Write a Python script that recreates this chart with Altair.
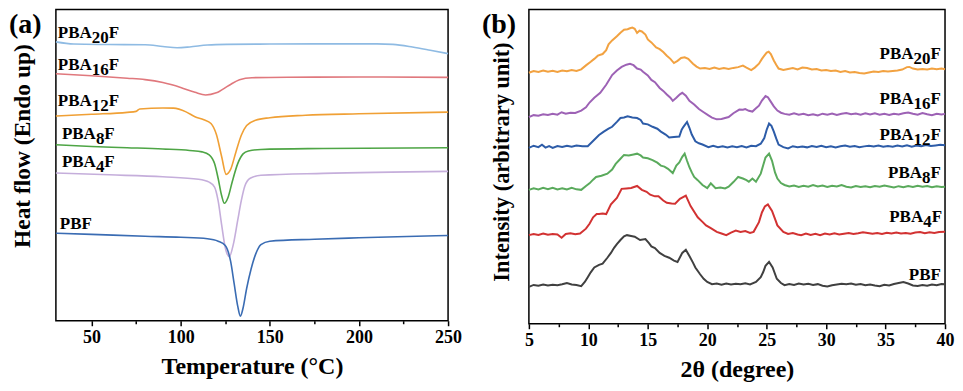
import altair as alt
import pandas as pd

FONT = "Liberation Serif"
names = ["PBA20F", "PBA16F", "PBA12F", "PBA8F", "PBA4F", "PBF"]

# ---------------- DSC (panel a) ----------------
dsc_T = {
    "PBA20F": [30, 40, 60, 80, 90, 98, 105, 115, 126, 150, 180, 210, 219, 230, 240, 250],
    "PBA16F": [30, 50, 70, 80, 90, 100, 108, 114, 120, 127, 133, 140, 160, 200, 250],
    "PBA12F": [30, 50, 70, 75, 77, 90, 96, 103, 108, 113, 117, 120, 123, 125.5, 128, 131, 134, 137, 142, 150, 170, 200, 250],
    "PBA8F": [30, 50, 70, 90, 105, 112, 116, 119, 121, 123, 124.5, 126.5, 129, 132, 135, 138, 145, 180, 250],
    "PBA4F": [30, 60, 90, 110, 116, 119, 121, 123, 125, 127.3, 129.5, 132, 134, 136, 139, 145, 180, 250],
    "PBF": [30, 50, 80, 100, 115, 121, 125, 128, 130, 132, 133.5, 135, 137, 139.5, 142, 145, 150, 175, 200, 250],
}
dsc_v = {
    "PBA20F": [285.7, 283.5, 283, 282.7, 281, 279.7, 280.5, 282.5, 283.2, 283.5, 283.7, 283.7, 283.2, 280.5, 277.2, 273.7],
    "PBA16F": [253, 251, 248.5, 247, 244, 239, 234, 231.3, 233.5, 241, 247, 249, 249.5, 249.7, 249.3],
    "PBA12F": [209.7, 211.5, 213.5, 214.5, 217, 218, 217.8, 214, 209, 206, 202, 191, 168, 150, 155, 173, 190, 200, 205.5, 208, 210.5, 212, 213.7],
    "PBA8F": [180.3, 178.5, 177.3, 176, 174.5, 173, 170, 161, 146, 128, 120.3, 126, 143, 161, 171, 174, 175.5, 176.5, 177.3],
    "PBA4F": [151.3, 149.5, 147.5, 145, 142, 137, 123, 98, 75, 65.7, 78, 103, 123, 138, 146, 149, 151, 153],
    "PBF": [89.7, 88.5, 86.5, 85.5, 84, 81.5, 77, 61, 38, 15, 4.7, 13, 33, 53, 68, 78, 81.5, 83.5, 85, 87.3],
}
dsc_colors = ["#8fbbe3", "#e0787d", "#f0a035", "#4ea545", "#c5aedb", "#3a6cb3"]

dsc_lbl_x = [31.1, 31.1, 31.1, 33.4, 33.4, 32.2]
dsc_lbl_y = [289.7, 257, 220.3, 186.3, 157.3, 93.7]

# ---------------- XRD (panel b) ----------------
xrd_x = {
    "PBA20F": [5.0, 5.4, 5.8, 6.2, 6.6, 7.0, 7.4, 7.8, 8.2, 8.6, 9.0, 9.4, 9.8, 10.2, 10.5, 10.8, 11.2, 11.5, 11.7, 12.0,
               12.4, 12.7, 13.0, 13.3, 13.5, 13.7, 13.9, 14.1, 14.3, 14.5, 14.8, 15.0, 15.3, 15.7, 16.0, 16.3, 16.6, 16.9, 17.2, 17.5,
               17.8, 18.1, 18.4, 18.8, 19.1, 19.4, 19.8, 20.2, 20.6, 21.0, 21.4, 21.8, 22.2, 22.6, 23.0, 23.3, 23.7, 24.0, 24.35, 24.6,
               24.8, 25.0, 25.17, 25.35, 25.6, 25.8, 26.0, 26.4, 26.8, 27.2, 27.6, 28.0, 28.4, 28.8, 29.2, 29.6, 30.0, 30.4, 30.8, 31.2,
               31.6, 32.0, 32.4, 32.8, 33.2, 33.6, 34.0, 34.4, 34.8, 35.2, 35.6, 36.0, 36.4, 36.8, 37.0, 37.3, 37.7, 38.1, 38.5, 38.9,
               39.3, 39.7, 40.0],
    "PBA16F": [5.0, 5.4, 5.8, 6.2, 6.6, 7.0, 7.4, 7.75, 8.1, 8.5, 8.9, 9.4, 9.8, 10.1, 10.5, 11.0, 11.5, 12.0, 12.4, 12.8,
               13.2, 13.5, 13.8, 14.1, 14.4, 14.6, 15.0, 15.3, 15.6, 16.0, 16.3, 16.6, 16.9, 17.1, 17.4, 17.7, 17.9, 18.2, 18.5, 18.9,
               19.3, 19.7, 20.1, 20.4, 20.8, 21.2, 21.5, 21.8, 22.2, 22.7, 23.0, 23.2, 23.5, 23.8, 24.1, 24.35, 24.6, 24.9, 25.1, 25.3,
               25.6, 25.9, 26.2, 26.5, 26.9, 27.3, 27.7, 28.1, 28.5, 28.9, 29.3, 29.7, 30.1, 30.5, 30.9, 31.3, 31.7, 32.1, 32.5, 32.9,
               33.3, 33.7, 34.1, 34.5, 34.9, 35.3, 35.7, 36.1, 36.5, 36.9, 37.3, 37.7, 38.1, 38.5, 38.9, 39.3, 39.7, 40.0],
    "PBA12F": [5.0, 5.4, 5.8, 6.1, 6.4, 6.7, 7.0, 7.4, 7.8, 8.2, 8.6, 9.0, 9.5, 9.95, 10.5, 10.9, 11.3, 11.7, 12.0, 12.4,
               12.7, 13.0, 13.3, 13.7, 14.1, 14.4, 14.6, 15.0, 15.4, 15.8, 16.1, 16.5, 16.8, 17.2, 17.65, 17.85, 18.0, 18.3, 18.5, 18.7,
               19.0, 19.3, 19.6, 20.1, 20.5, 20.9, 21.3, 21.7, 22.1, 22.5, 22.9, 23.3, 23.7, 24.1, 24.5, 24.8, 25.0, 25.2, 25.4, 25.6,
               25.8, 26.0, 26.4, 26.8, 27.2, 27.6, 28.0, 28.4, 28.8, 29.2, 29.6, 30.0, 30.4, 30.8, 31.2, 31.6, 32.0, 32.4, 32.8, 33.2,
               33.6, 34.0, 34.4, 34.8, 35.2, 35.6, 36.0, 36.4, 36.8, 37.2, 37.6, 38.0, 38.4, 38.8, 39.2, 39.6, 40.0],
    "PBA8F": [5.0, 5.4, 5.8, 6.2, 6.6, 7.0, 7.4, 7.8, 8.2, 8.6, 9.0, 9.4, 9.8, 10.1, 10.4, 10.65, 11.1, 11.6, 12.0, 12.3,
              12.7, 13.0, 13.4, 13.8, 14.1, 14.4, 14.6, 15.0, 15.4, 15.8, 16.1, 16.4, 16.7, 17.1, 17.4, 17.65, 17.9, 18.1, 18.3, 18.5,
              18.7, 18.9, 19.2, 19.6, 20.0, 20.3, 20.7, 21.1, 21.5, 21.8, 22.2, 22.6, 23.0, 23.3, 23.5, 23.8, 24.1, 24.5, 24.7, 24.9,
              25.2, 25.45, 25.7, 25.9, 26.2, 26.5, 26.9, 27.3, 27.7, 28.1, 28.5, 28.9, 29.3, 29.7, 30.1, 30.5, 30.9, 31.3, 31.7, 32.1,
              32.5, 32.9, 33.3, 33.7, 34.1, 34.5, 34.9, 35.3, 35.7, 36.1, 36.5, 36.9, 37.3, 37.7, 38.1, 38.5, 38.9, 39.3, 39.7, 40.0],
    "PBA4F": [5.0, 5.4, 5.8, 6.2, 6.6, 7.0, 7.4, 7.75, 8.1, 8.5, 8.9, 9.3, 9.8, 10.1, 10.4, 10.7, 10.9, 11.2, 11.5, 11.9,
              12.4, 12.8, 13.2, 13.6, 14.1, 14.5, 14.9, 15.2, 15.6, 15.9, 16.3, 16.6, 17.0, 17.3, 17.7, 18.2, 18.6, 19.2, 19.6, 19.9,
              20.3, 20.8, 21.2, 21.6, 22.0, 22.4, 22.8, 23.2, 23.6, 23.9, 24.35, 24.6, 24.85, 25.1, 25.45, 25.7, 25.9, 26.4, 26.8, 27.2,
              27.6, 27.9, 28.3, 28.7, 29.1, 29.5, 29.9, 30.3, 30.7, 31.1, 31.5, 31.9, 32.3, 32.7, 33.1, 33.5, 33.9, 34.3, 34.7, 35.1,
              35.5, 35.9, 36.3, 36.7, 37.1, 37.5, 37.9, 38.3, 38.7, 39.1, 39.5, 40.0],
    "PBF": [5.0, 5.4, 5.8, 6.2, 6.6, 7.0, 7.4, 7.8, 8.2, 8.6, 9.0, 9.4, 9.7, 9.95, 10.2, 10.5, 10.9, 11.2, 11.6, 11.9,
            12.15, 12.4, 12.7, 13.0, 13.25, 13.6, 13.9, 14.35, 14.8, 15.1, 15.3, 15.6, 16.0, 16.4, 16.8, 17.2, 17.5, 17.9, 18.2, 18.5,
            18.8, 19.0, 19.4, 19.7, 20.0, 20.4, 20.8, 21.2, 21.6, 22.0, 22.4, 22.8, 23.2, 23.6, 24.1, 24.5, 24.7, 24.9, 25.2, 25.5,
            25.85, 26.2, 26.5, 26.9, 27.3, 27.7, 28.1, 28.5, 28.9, 29.3, 29.7, 30.1, 30.5, 30.9, 31.3, 31.7, 32.1, 32.5, 32.9, 33.3,
            33.7, 34.1, 34.5, 34.9, 35.3, 35.7, 36.1, 36.5, 36.9, 37.3, 37.7, 38.1, 38.5, 38.9, 39.3, 39.7, 40.0],
}
xrd_y = {
    "PBA20F": [258.7, 260.5, 259.5, 261, 259.7, 260.8, 259.5, 261, 260.2, 261.5, 260.5, 262.2, 266.3, 270, 273, 276.3, 278, 282, 288, 292,
               296.3, 300, 303, 303.5, 304.5, 305.3, 304, 299.7, 302, 301.3, 298, 293, 290, 284.7, 283, 280, 276.3, 273, 268.7, 271,
               274, 274.7, 273, 268, 265, 263, 263.5, 262.5, 264, 262.5, 263.5, 262.7, 263.7, 264.5, 266, 264, 261.5, 264, 268, 273,
               276.3, 279.5, 280.3, 278, 271.3, 267, 263, 261.5, 262.5, 263.5, 262, 264, 263.5, 262, 262.5, 261, 261.5, 260.5, 261, 259.5,
               260.5, 259, 259.5, 258.5, 258, 259, 260, 259.5, 260.5, 260, 260.5, 261, 262, 264.5, 264.7, 263, 262, 262.5, 262, 263,
               262.3, 263, 262.3],
    "PBA16F": [213, 215, 214.5, 216, 215.2, 216.5, 215.5, 218, 216.5, 217.5, 217.2, 219.7, 223, 228, 233, 238, 246.3, 256.3, 261, 264.7,
               267, 268, 266.5, 263, 262, 259.7, 256, 251.3, 249, 243, 240, 236.3, 233, 229.7, 233, 236.5, 238, 235, 229.7, 226,
               221.3, 218, 214.7, 212.5, 210.7, 211, 212, 213, 217, 220.7, 220.5, 221.3, 219.5, 218.7, 222, 224.7, 230, 234.7, 233.5, 229.7,
               224, 219.7, 217.5, 216.3, 215.5, 217, 215.5, 216.5, 215, 216, 214.7, 216.5, 215.5, 216.7, 215.2, 216.5, 217.2, 216, 216.7, 215.5,
               217, 215.7, 216.8, 215.5, 216.5, 215.2, 216.5, 215.7, 217, 217.7, 216.5, 215.5, 217.2, 216, 215, 216.5, 215.7, 216.3],
    "PBA12F": [181.3, 183.5, 182, 184.5, 181.5, 183, 181.2, 183.2, 182.2, 183.5, 182.5, 183.7, 183, 183, 189.7, 194.5, 198, 201, 203, 208,
               212, 212.5, 213.7, 212.5, 212, 210, 206.3, 205.5, 203, 201, 198, 195, 192, 192.5, 193, 200, 203, 208, 202, 195,
               188, 186, 184.7, 182, 183.5, 182, 183, 181.7, 182.8, 182, 183.2, 181.8, 183.5, 183, 185.5, 191.3, 200, 206.3, 204, 198,
               191, 184.7, 182, 180.7, 183, 182, 182.7, 181.8, 183.2, 182.2, 183.5, 182, 183, 181.7, 183, 183.7, 182.5, 183.2, 182, 182.8,
               183.5, 182.7, 183.8, 182.5, 183.2, 182.5, 183.7, 182.8, 184, 182.5, 183.8, 183, 184.2, 183.2, 183.8, 184.5, 184],
    "PBA8F": [138, 139.5, 138.5, 140, 138.7, 140.2, 138.5, 139.7, 138.3, 140, 138.5, 138, 142, 144.7, 148.5, 151.3, 152.5, 154.7, 159, 164.7,
              170, 174, 173.5, 174.5, 175.3, 173.5, 171.3, 170.5, 168.7, 166, 163, 162, 159.7, 155.3, 163, 166.3, 172, 175.3, 168, 161.3,
              156, 151.3, 148, 143, 139.7, 144.7, 139.7, 140.5, 139.5, 141.3, 146, 151.3, 149.7, 148, 146.3, 149.7, 146.3, 154.7, 163, 171.3,
              175.3, 168, 156, 149.7, 145, 143, 141.5, 142.5, 141, 142.2, 141.2, 143, 141.5, 142.5, 141, 142.2, 141.5, 143, 141.2, 140.5,
              142, 141, 141.8, 140.7, 142, 141.2, 142.5, 141.5, 140.5, 141.8, 140.8, 142, 141, 142.2, 141.2, 142, 140.7, 141.8, 141, 141.3],
    "PBA4F": [91.3, 92.5, 91.5, 93, 91.7, 92.5, 92, 88.7, 92.5, 93.2, 92.2, 93, 98, 103, 109.7, 113, 113, 113.5, 113, 123,
              129.7, 139, 139.5, 140, 142, 138, 136, 133, 131.3, 131.3, 127, 124.7, 124, 123.7, 128.7, 132, 121.3, 109.7, 105, 101.3,
              98.5, 94.7, 93, 91.3, 94, 96, 94.5, 95.5, 93.5, 94.7, 104.7, 114.7, 121, 123, 116.3, 108, 101.3, 94.7, 92.5, 93.5,
              92, 91.3, 93, 91.5, 92.7, 91.2, 93, 92, 93.2, 92, 92.8, 93.5, 92.5, 93.2, 94.2, 93.5, 92.7, 93.5, 92.5, 93.7,
              93, 94, 93, 93.5, 92.7, 94, 94.5, 93.2, 94.2, 93.5, 94.5, 94.7],
    "PBF": [38, 40, 39.2, 40.5, 39.5, 40.2, 39.7, 40.7, 42, 40.5, 40, 38.7, 43, 48, 53, 58, 60.7, 62, 68, 73,
            78, 82, 86.3, 90, 91.3, 90.5, 89.7, 86.3, 87.3, 83, 79.7, 78, 73, 70, 68, 65, 63.7, 73, 76.3, 69.7,
            63, 58, 51, 46.3, 43, 40.7, 41.5, 40.2, 41.5, 40.5, 41.3, 40.7, 41.7, 40.5, 43, 48, 53, 59.7, 63.7, 58,
            46.3, 42, 39.7, 41, 40, 41.5, 40.5, 41.2, 40, 40.8, 39.2, 38.5, 39.7, 40.5, 41.2, 40.7, 41.5, 40.2, 41, 39.7,
            40.5, 39.5, 38.7, 40.2, 39.5, 41, 42, 43, 41.5, 39.5, 39, 40, 39.2, 40.5, 39.7, 41, 40.7],
}
xrd_colors = ["#f2a241", "#9d62b5", "#2d5ca8", "#5aaa5c", "#d23232", "#404040"]

xrd_lbl_x = [39.65, 39.65, 39.65, 39.65, 39.75, 39.65]
xrd_lbl_y = [272.5, 226.3, 189.7, 149.7, 104.7, 45.3]

# label pieces: prefix, subscript digits, suffix
lbl_pre = ["PBA", "PBA", "PBA", "PBA", "PBA", "PBF"]
lbl_sub = ["20", "16", "12", "8", "4", ""]
lbl_post = ["F", "F", "F", "F", "F", ""]

# ---------------- tables ----------------
dsc_df = pd.DataFrame(
    [{"series": n, "T": t, "v": v} for n in names for t, v in zip(dsc_T[n], dsc_v[n])]
)
xrd_df = pd.DataFrame(
    [{"series": n, "deg": d, "I": i} for n in names for d, i in zip(xrd_x[n], xrd_y[n])]
)
dsc_lbl = pd.DataFrame({"T": dsc_lbl_x, "v": dsc_lbl_y, "pre": lbl_pre, "sub": lbl_sub, "post": lbl_post})
xrd_lbl = pd.DataFrame({"deg": xrd_lbl_x, "I": xrd_lbl_y, "pre": lbl_pre, "sub": lbl_sub, "post": lbl_post})

# ---------------- shared styling ----------------
LBL = 18
TTL = 24
TXT = 17


def x_axis(title, values, major_test):
    return alt.Axis(
        title=title, values=values, grid=False, domain=False,
        labelExpr=f"({major_test}) ? datum.label : ''",
        labelFlush=False, labelOverlap=False,
        tickColor="black", tickWidth=1.5,
        tickSize={"condition": {"test": major_test, "value": 5}, "value": 3},
        labelFont=FONT, labelFontSize=LBL, labelFontWeight="bold", labelColor="black", labelPadding=3,
        titleFont=FONT, titleFontSize=TTL, titleFontWeight="bold", titleColor="black", titlePadding=8,
    )


def y_title(text, dx, cy, size):
    return alt.Chart(pd.DataFrame({"t": [text]})).mark_text(
        font=FONT, fontSize=size, fontWeight="bold", color="black",
        angle=270, align="center", baseline="middle",
    ).encode(x=alt.value(dx), y=alt.value(cy), text="t:N")


def tag(text, dx):
    return alt.Chart(pd.DataFrame({"t": [text]})).mark_text(
        font=FONT, fontSize=28, fontWeight="bold", color="black", align="left", baseline="top"
    ).encode(x=alt.value(dx), y=alt.value(2), text="t:N")


txt_kw = dict(font=FONT, fontSize=TXT, fontWeight="bold", color="black", baseline="alphabetic")

# ---------------- panel (a) ----------------
xa = alt.X("T:Q", scale=alt.Scale(domain=[30, 250], nice=False, zero=False),
           axis=x_axis("Temperature (°C)", [50, 75, 100, 125, 150, 175, 200, 225, 250], "datum.value % 50 == 0"))
ya = alt.Y("v:Q", scale=alt.Scale(domain=[0, 319], nice=False, zero=False), axis=None)

a_lines = alt.Chart(dsc_df).mark_line(strokeWidth=1.6, interpolate="monotone").encode(
    x=xa, y=ya,
    color=alt.Color("series:N", scale=alt.Scale(domain=names, range=dsc_colors), legend=None),
)
a_pre = alt.Chart(dsc_lbl).mark_text(align="left", **txt_kw).encode(x=xa, y=ya, text="pre:N")
a_sub = alt.Chart(dsc_lbl).mark_text(align="left", dx=34, dy=5, **txt_kw).encode(x=xa, y=ya, text="sub:N")
a_post = alt.Chart(dsc_lbl).mark_text(
    align="left", dx=alt.expr("34 + 8.5 * length(datum.sub)"), **txt_kw
).encode(x=xa, y=ya, text="post:N")

panel_a = alt.layer(
    a_lines, a_pre, a_sub, a_post, tag("(a)", -47), y_title("Heat flow (Endo up)", -33, 137, 23.5)
).properties(width=393, height=312)

# ---------------- panel (b) ----------------
xb = alt.X("deg:Q", scale=alt.Scale(domain=[5, 40], nice=False, zero=False),
           axis=x_axis("2θ (degree)", [5, 7.5, 10, 12.5, 15, 17.5, 20, 22.5, 25, 27.5, 30, 32.5, 35, 37.5, 40],
                       "datum.value % 5 == 0"))
yb = alt.Y("I:Q", scale=alt.Scale(domain=[0, 324], nice=False, zero=False), axis=None)

b_lines = alt.Chart(xrd_df).mark_line(strokeWidth=2).encode(
    x=xb, y=yb,
    color=alt.Color("series:N", scale=alt.Scale(domain=names, range=xrd_colors), legend=None),
)
b_post = alt.Chart(xrd_lbl).mark_text(align="right", **txt_kw).encode(x=xb, y=yb, text="post:N")
b_sub = alt.Chart(xrd_lbl).mark_text(align="right", dx=-10.4, dy=5, **txt_kw).encode(x=xb, y=yb, text="sub:N")
b_pre = alt.Chart(xrd_lbl).mark_text(
    align="right", dx=alt.expr("datum.post == '' ? 0 : -(10.4 + 8.5 * length(datum.sub))"), **txt_kw
).encode(x=xb, y=yb, text="pre:N")

panel_b = alt.layer(
    b_lines, b_post, b_sub, b_pre, tag("(b)", -47), y_title("Intensity (arbitrary unit)", -27, 153, 22.5)
).properties(width=417, height=315)

chart = (
    alt.hconcat(panel_a, panel_b, spacing=18)
    .resolve_scale(color="independent")
    .properties(padding={"left": 0, "top": 0, "right": 0, "bottom": 0}, background="white")
    .configure_view(stroke="black", strokeWidth=1.5)
)

chart.save("out.html", embed_options={"renderer": "svg", "actions": False})
